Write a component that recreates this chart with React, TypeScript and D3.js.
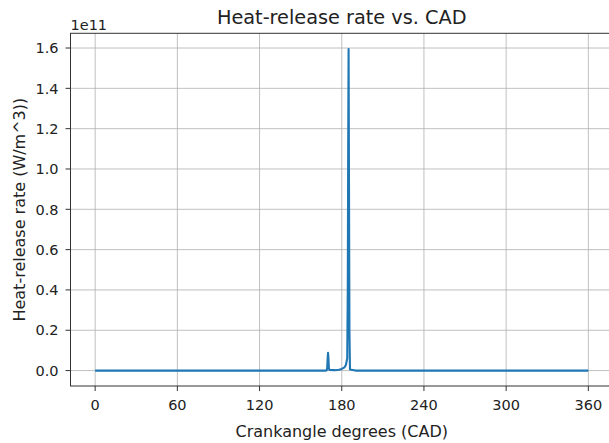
import React from "react";
import * as d3 from "d3";

const cad = [0, 168, 169, 169.4, 169.7, 170, 170.3, 170.6, 171, 175, 178, 180, 182, 183, 184, 184.4, 184.7, 185, 185.3, 185.6, 186, 190, 360];
const hrr = [0, 0, 0.05e9, 1.5e9, 6e9, 8.8e9, 6e9, 1.2e9, 0.3e9, 0.2e9, 0.4e9, 0.8e9, 1.6e9, 2.8e9, 6e9, 40e9, 110e9, 159.5e9, 90e9, 20e9, 0.5e9, 0, 0];
const xTicks = [0, 60, 120, 180, 240, 300, 360];
const yTicks = [0, 0.2e11, 0.4e11, 0.6e11, 0.8e11, 1.0e11, 1.2e11, 1.4e11, 1.6e11];

const W = 609, H = 443;
const L = 70.5, R = 613, T = 33.3, B = 386;

export default function App() {
  const x = d3.scaleLinear().domain([-18, 378]).range([L, R]);
  const y = d3.scaleLinear().domain([-0.0765e11, 1.673e11]).range([B, T]);
  const line = d3.line<number>().x((_, i) => x(cad[i])).y((d) => y(d));
  const font = "DejaVu Sans, sans-serif";
  return (
    <svg width={W} height={H} style={{ position: "absolute", left: 0, top: 0, background: "#fff" }}>
      <defs>
        <clipPath id="clip"><rect x={L} y={T} width={R - L} height={B - T} /></clipPath>
      </defs>
      {xTicks.map((t) => (
        <line key={"gx" + t} x1={x(t)} x2={x(t)} y1={T} y2={B} stroke="#b0b0b0" strokeWidth={0.8} />
      ))}
      {yTicks.map((t) => (
        <line key={"gy" + t} x1={L} x2={R} y1={y(t)} y2={y(t)} stroke="#b0b0b0" strokeWidth={0.8} />
      ))}
      <path d={line(hrr) || ""} fill="none" stroke="#1f77b4" strokeWidth={2.1} clipPath="url(#clip)" strokeLinejoin="round" />
      <rect x={L} y={T} width={R - L} height={B - T} fill="none" stroke="#333" strokeWidth={1} />
      {xTicks.map((t) => (
        <g key={"tx" + t}>
          <line x1={x(t)} x2={x(t)} y1={B} y2={B + 5} stroke="#333" strokeWidth={1} />
          <text x={x(t)} y={409.5} textAnchor="middle" fontFamily={font} fontSize={14.5} fill="#222">{t}</text>
        </g>
      ))}
      {yTicks.map((t) => (
        <g key={"ty" + t}>
          <line x1={L - 5} x2={L} y1={y(t)} y2={y(t)} stroke="#333" strokeWidth={1} />
          <text x={58.5} y={y(t)} dy="0.36em" textAnchor="end" fontFamily={font} fontSize={14.5} fill="#222">{(t / 1e11).toFixed(1)}</text>
        </g>
      ))}
      <text x={L} y={T - 3.5} fontFamily={font} fontSize={14.5} fill="#222">1e11</text>
      <text x={(L + R) / 2} y={23.5} textAnchor="middle" fontFamily={font} fontSize={19.3} fill="#222">Heat-release rate vs. CAD</text>
      <text x={(L + R) / 2} y={437} textAnchor="middle" fontFamily={font} fontSize={16} fill="#222">Crankangle degrees (CAD)</text>
      <text transform={`translate(25,${(T + B) / 2}) rotate(-90)`} textAnchor="middle" fontFamily={font} fontSize={16} fill="#222">Heat-release rate (W/m^3))</text>
    </svg>
  );
}
